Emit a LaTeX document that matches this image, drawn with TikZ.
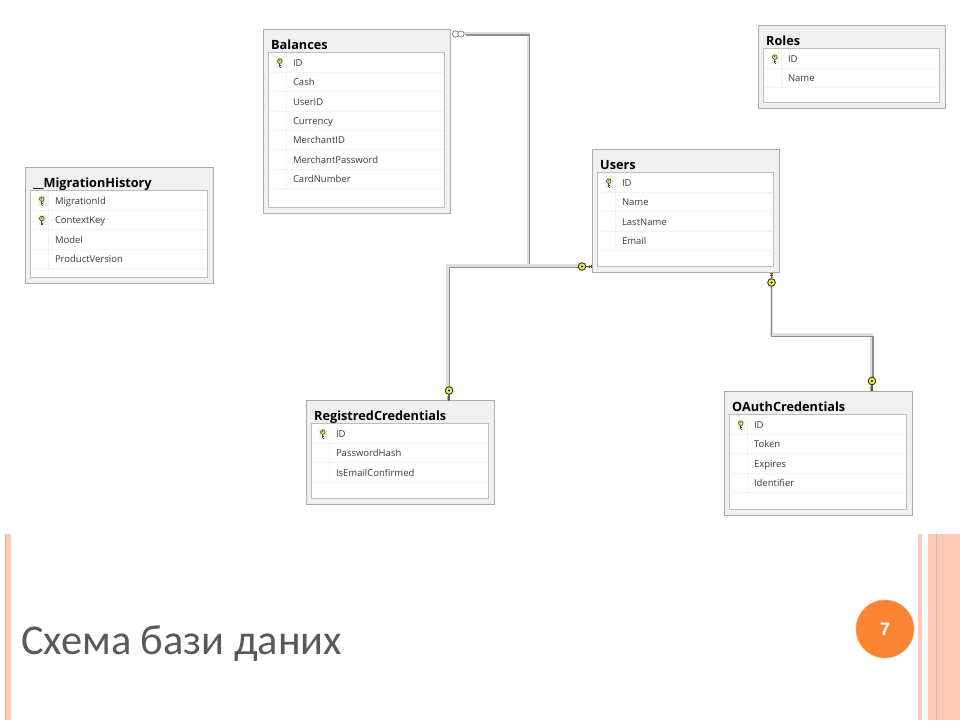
\documentclass[tikz,border=0pt]{standalone}
\usepackage{fontspec}
\setmainfont{Open Sans}
\newfontfamily\titlefont{Carlito}
\newfontfamily\numfont{Liberation Sans}
\usetikzlibrary{calc}
\definecolor{tblfill}{HTML}{F0F0F0}
\definecolor{tbledge}{HTML}{ABABAB}
\definecolor{inneredge}{HTML}{BDBDBD}
\definecolor{rowline}{HTML}{F3F3F3}
\definecolor{txt}{HTML}{3C3C3C}
\definecolor{linkdark}{HTML}{8C8C8C}
\definecolor{linklight}{HTML}{DDDDDD}
\definecolor{keyyellow}{HTML}{F4F03C}
\definecolor{salmon}{HTML}{FFC9B8}
\definecolor{salmondark}{HTML}{F2A68C}
\definecolor{orangec}{HTML}{FB8433}
\tikzset{
  x=1pt,y=-1pt,
  tbl/.style={draw=tbledge,line width=1pt,fill=tblfill,anchor=north west,inner sep=0pt,outer sep=0pt},
  innertbl/.style={draw=inneredge,line width=1.2pt,fill=white,anchor=north west,inner sep=0pt,outer sep=0pt},
  tbltitle/.style={anchor=base west,inner sep=0pt,font=\fontsize{12.7}{14}\selectfont\bfseries,text=black},
  rowtext/.style={anchor=base west,inner sep=0pt,font=\fontsize{9.5}{12}\selectfont,text=txt},
  rowrule/.style={draw=rowline,line width=0.8pt},
  linkback/.style={draw=linklight,line width=2.6pt,line join=miter},
  linkfront/.style={draw=linkdark,line width=1.4pt,line join=miter},
  ring/.style={draw=black!60,fill=white,line width=0.6pt,circle,minimum size=6.4pt,inner sep=0pt},
  keyicon/.pic={
    \fill[black!6] (-4,-5) rectangle (4,5);
    \draw[black!70,line width=.9pt] (0,-1) -- (0,4.2) (0,2.6) -- (1.5,2.6) (0,4.2) -- (1.5,4.2);
    \draw[black!70,fill=keyyellow,line width=.7pt] (0,-2) circle (2.3);
    \fill[black!75] (0,-2.4) circle (.6);
  },
  keyend/.pic={
    \draw[black!60,line width=1.2pt] (3,0) -- (10,0);
    \draw[keyyellow!80!black,line width=1.1pt] (5,1.3) -- (9.5,1.3);
    \draw[black!70,line width=.8pt] (7,-1.4) -- (7,1.5) (9.2,-1.4) -- (9.2,1.5);
    \draw[black!80,fill=keyyellow,line width=.9pt] (0,0) circle (3.8);
    \fill[black] (0,0) circle (1.2);
  },
}
% name, left, top, right, bottom, title, number of key rows, number of rows, rows
\newcommand{\erdtable}[9]{%
  \node[tbl,minimum width={#4-#2},minimum height={#5-#3}] (#1) at (#2,#3) {};
  \node[innertbl,minimum width={#4-#2-11.5},minimum height={#5-#3-29}] (#1-in) at ($(#1.north west)+(5.8,23.5)$) {};
  \node[tbltitle] (#1-title) at ($(#1.north west)+(8,20.5)$) {#6};
  \foreach \t [count=\i] in {#9} {
    \ifnum\i>#7\relax\else
      \pic at ($(#1-in.north west)+(11,{10.6+(\i-1)*19.35})$) {keyicon};
    \fi
    \node[rowtext] (#1-r\i) at ($(#1-in.north west)+(24,{14+(\i-1)*19.35})$) {\t};
    \draw[rowrule] ($(#1-in.north west)+(1,{\i*19.35+0.6})$) -- ($(#1-in.north east)+(-1,{\i*19.35+0.6})$);
  }
  \draw[rowrule] ($(#1-in.north west)+(18,0)$) -- ($(#1-in.north west)+(18,#8*19.35)$);
}
\begin{document}
\begin{tikzpicture}
\useasboundingbox (0,0) rectangle (960,720);
\fill[white] (0,0) rectangle (960,720);

% slide decoration
\fill[salmon] (5,534) rectangle (11,720);
\fill[salmondark] (5,534) rectangle (6,720);
\fill[salmon] (918,534) rectangle (922,720);
\fill[salmon] (928,534) rectangle (960,720);
\fill[salmondark] (936,534) rectangle (937,720);
\fill[salmon!85!salmondark] (943,534) rectangle (943.7,720);

% tables
\erdtable{balances}{263}{29}{450}{213}{Balances}{1}{7}{ID,Cash,UserID,Currency,MerchantID,MerchantPassword,CardNumber}
\erdtable{roles}{758}{25}{945}{108}{Roles}{1}{2}{ID,Name}
\erdtable{users}{592}{149}{779}{272}{Users}{1}{4}{ID,Name,LastName,Email}
\erdtable{migration}{25}{167}{213}{283}{\_\_MigrationHistory}{2}{4}{MigrationId,ContextKey,Model,ProductVersion}
\erdtable{registred}{306}{400}{494}{504}{RegistredCredentials}{1}{3}{ID,PasswordHash,IsEmailConfirmed}
\erdtable{oauth}{724}{391}{912}{515}{OAuthCredentials}{1}{4}{ID,Token,Expires,Identifier}

% connector end points
\coordinate (balEnd) at ($(balances.north east)+(15,5)$);
\coordinate (balCorner) at ($(balances.north east)+(79,5)$);
\coordinate (usrWest) at ($(users.south west)+(-10,-5.5)$);
\coordinate (regTop) at ($(registred.north west)+(143,-9.5)$);
\coordinate (usrSouth) at ($(users.south east)+(-7.5,10.5)$);
\coordinate (oaTop) at ($(oauth.north west)+(148,-10)$);

% Balances -> Users
\draw[linkback] ([shift={(-.8,-.8)}]balEnd) -- ([shift={(-.8,-.8)}]balCorner) -- ([shift={(-.8,0)}]balCorner |- usrWest);
\draw[linkfront] ([shift={(.6,.8)}]balEnd) -- ([shift={(.6,.8)}]balCorner) -- ([shift={(.6,0)}]balCorner |- usrWest);

% Registred -> Users
\draw[linkback] ([shift={(0,-1.2)}]usrWest) -- ([shift={(-1.4,-1.2)}]regTop |- usrWest) -- ([shift={(-1.4,0)}]regTop);
\draw[linkfront] ([shift={(0,1.2)}]usrWest) -- ([shift={(.6,1.2)}]regTop |- usrWest) -- ([shift={(.6,0)}]regTop);

% Users -> OAuth
\coordinate (midLeft) at ($(usrSouth)+(0,53)$);
\draw[linkback] ([shift={(0,0)}]usrSouth) -- ([shift={(0,-1.2)}]midLeft) -- ([shift={(-.8,-1.2)}]oaTop |- midLeft) -- ([shift={(-.8,0)}]oaTop);
\draw[linkfront] ([shift={(0,0)}]usrSouth) -- ([shift={(0,1.2)}]midLeft) -- ([shift={(.8,1.2)}]oaTop |- midLeft) -- ([shift={(.8,0)}]oaTop);

% line ends
\node[ring] (ringA) at ($(balances.north east)+(5.5,5)$) {};
\node[ring] (ringB) at ($(balances.north east)+(11,5)$) {};
\pic[rotate=0] at (usrWest) {keyend};
\pic[rotate=-90] at (regTop) {keyend};
\pic[rotate=90] at (usrSouth) {keyend};
\pic[rotate=-90] at (oaTop) {keyend};

% footer
\node[anchor=base west,inner sep=0pt,font=\fontsize{42.4}{48}\selectfont\titlefont,text=black!65] (slidetitle) at (21,654) {Схема бази даних};
\node[circle,fill=orangec,draw=orangec!70!white,line width=.6pt,minimum size=58pt,inner sep=0pt,font=\fontsize{18}{20}\selectfont\numfont\bfseries,text=white] (pagenum) at (885,629) {7};
\end{tikzpicture}
\end{document}
